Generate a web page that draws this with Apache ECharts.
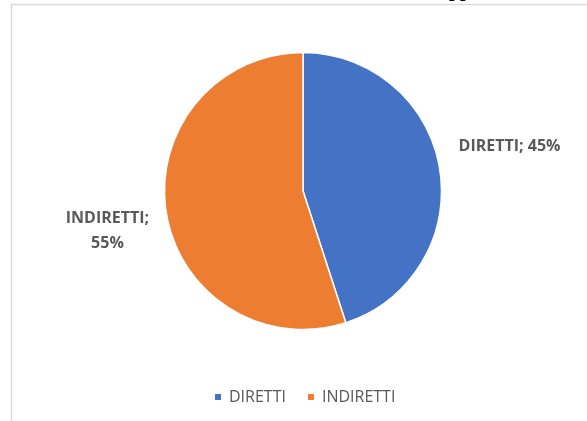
<!DOCTYPE html>
<html><head><meta charset="utf-8">
<script src="https://cdn.jsdelivr.net/npm/echarts@6/dist/echarts.min.js"></script>
<style>html,body{margin:0;padding:0;background:#fff}#c{width:587px;height:421px}</style>
</head><body><div id="c"></div>
<script>
const categories = ['DIRETTI', 'INDIRETTI'];
const values = [45, 55];
const colors = ['#4472C4', '#ED7D31'];

const chart = echarts.init(document.getElementById('c'), null, {renderer: 'canvas'});
chart.setOption({
  animation: false,
  color: colors,
  graphic: [
    {type: 'rect', shape: {x: 11.5, y: 4.5, width: 700, height: 600}, style: {fill: 'none', stroke: '#d9d9d9', lineWidth: 1.5}, z: 0},
    {type: 'text', left: 449, top: -19, style: {text: 'pp', font: 'bold 20px "Liberation Serif"', fill: '#000'}, z: 1}
  ],
  legend: {
    top: 384, left: 208,
    itemWidth: 8, itemHeight: 8, itemGap: 20,
    icon: 'rect',
    textStyle: {color: '#595959', fontSize: 16, fontFamily: 'Open Sans', padding: [0, 0, 0, 2]},
    data: categories
  },
  series: [{
    type: 'pie',
    center: [303, 191],
    radius: 138.5,
    startAngle: 90,
    clockwise: true,
    itemStyle: {borderColor: '#fff', borderWidth: 1.5},
    label: {
      show: true,
      position: 'outside',
      formatter: function (p) { return p.dataIndex === 1 ? p.name + ';\n' + p.value + '%' : p.name + '; ' + p.value + '%'; },
      color: '#595959', fontSize: 16, fontWeight: 'bold', fontFamily: 'Open Sans', lineHeight: 25
    },
    labelLine: {show: false, length: 20, length2: 0},
    labelLayout: function (params) {
      if (params.dataIndex === 0) return {align: 'center', verticalAlign: 'middle', dx: 45, dy: -20};
      return {align: 'center', verticalAlign: 'middle', dx: -34, dy: 15};
    },
    data: categories.map((c, i) => ({name: c, value: values[i]}))
  }]
});
</script></body></html>
